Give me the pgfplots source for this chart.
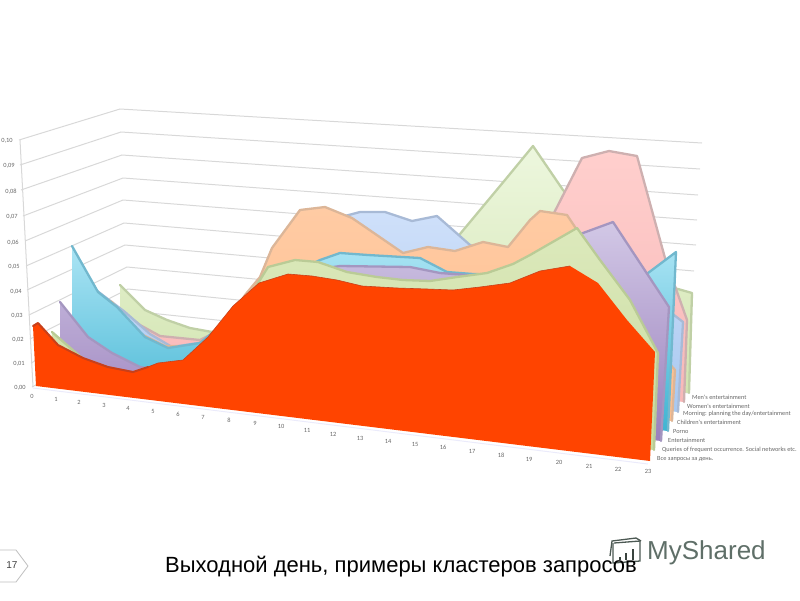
\documentclass[border=0pt]{standalone}
\usepackage{pgfplots}
\pgfplotsset{compat=1.18}
\usepackage{fontspec}
\setmainfont{Liberation Sans}
\newfontfamily\carl{Carlito}
\definecolor{grid}{HTML}{D8D8D8}
\definecolor{lab}{HTML}{666666}
\definecolor{redF}{HTML}{FF4400}
\definecolor{redE}{HTML}{C8401A}
\definecolor{qT}{HTML}{DCE9BC}\definecolor{qB}{HTML}{C9DC9E}\definecolor{qE}{HTML}{BACB96}
\definecolor{pT}{HTML}{D2C8E6}\definecolor{pB}{HTML}{9A80BC}\definecolor{pE}{HTML}{A496C0}
\definecolor{aT}{HTML}{ABE4F4}\definecolor{aB}{HTML}{3FB4D2}\definecolor{aE}{HTML}{72B8CE}
\definecolor{oT}{HTML}{FFCBA4}\definecolor{oB}{HTML}{FFBE8C}\definecolor{oE}{HTML}{DCB698}
\definecolor{bT}{HTML}{CFE0FA}\definecolor{bB}{HTML}{A8C8F0}\definecolor{bE}{HTML}{A8BAD6}
\definecolor{kT}{HTML}{FFCFCD}\definecolor{kB}{HTML}{F8B8B8}\definecolor{kE}{HTML}{CEB0B0}
\definecolor{mT}{HTML}{EDF7DE}\definecolor{mB}{HTML}{D2E4B0}\definecolor{mE}{HTML}{C0D0A6}
\definecolor{wm}{HTML}{5F6F68}
% #1 #2 fill top/bottom, #3 edge, #4 top points, #5 right floor point, #6 left floor point
\newcommand{\series}[6]{%
  \addplot[draw=none, top color=#1, bottom color=#2] coordinates {#4 #5 #6} --cycle;
  \addplot[draw=#3, line width=2.3pt, line join=round, line cap=round] coordinates {#4 #5};
}
\newcommand{\gl}[3]{\addplot[draw=grid, line width=1pt] coordinates {#1 #2 #3};}
\newcommand{\yl}[3]{\node[anchor=center, text=lab] at (axis cs:#1,#2) {\carl\fontsize{6.4}{7}\selectfont #3};}
\newcommand{\leg}[3]{\node[anchor=west, inner sep=0pt, text=lab] at (axis cs:#1,#2) {\carl\fontsize{6.3}{7}\selectfont #3};}
\begin{document}
\begin{tikzpicture}
\useasboundingbox (0,0) rectangle (800pt,600pt);
\begin{axis}[at={(0,0)}, anchor=south west, scale only axis, width=800pt, height=600pt, xmin=0, xmax=800, ymin=0, ymax=600,
  y dir=reverse, hide axis, no markers]
% gridlines: side wall and back wall
\gl{(19,140)}{(120,109)}{(702,143)}
\gl{(20,165)}{(121,132)}{(700,169)}
\gl{(21,190)}{(122,155)}{(698,195)}
\gl{(23,216)}{(123,178)}{(697,220)}
\gl{(25,241)}{(123,200)}{(696,245)}
\gl{(26,266)}{(124,223)}{(694,271)}
\gl{(27,290)}{(125,245)}{(693,296)}
\gl{(29,315)}{(127,267)}{(692,320)}
\gl{(30,339)}{(128,289)}{(691,345)}
\gl{(31,363)}{(130,311)}{(690,369)}
\gl{(32,387)}{(131,333)}{(689,393)}
\addplot[draw=grid, line width=1pt] coordinates {(20,140) (33,387)};
\addplot[draw=black!22!blue!8!white, line width=1pt] coordinates {(33,388) (648,464)};
% Men's entertainment
\series{mT}{mB}{mE}{(120,285) (145,310) (167,320) (190,328) (212,332) (235,320) (265,300) (300,290) (340,280) (380,270) (420,265) (445,252) (475,216) (505,180) (533,146) (563,190) (600,232) (640,280) (678,289) (692,293)}{(689,393)}{(120,334)}
% Women's entertainment
\series{kT}{kB}{kE}{(108,300) (140,325) (160,336) (200,340) (230,325) (255,290) (285,270) (320,260) (360,270) (400,280) (450,285) (500,280) (540,240) (555,211) (582,158) (609,151) (637,156) (665,258) (687,320)}{(684,402)}{(108,341)}
% Morning: planning the day/entertainment
\series{bT}{bB}{bE}{(96,290) (125,312) (150,334) (172,347) (205,342) (235,310) (262,280) (290,245) (320,225) (345,216) (360,212) (385,212) (412,221) (437,216) (470,245) (500,260) (540,245) (580,245) (620,270) (650,300) (674,315) (683,322)}{(678,412)}{(96,348)}
% Children's entertainment
\series{oT}{oB}{oE}{(84,290) (112,302) (135,331) (165,346) (195,346) (225,325) (245,295) (260,277) (272,248) (300,210) (325,207) (352,218) (403,253) (428,247) (455,251) (483,242) (508,247) (530,220) (540,211) (567,215) (575,227) (600,262) (640,330) (675,370)}{(672,421)}{(84,356)}
% Porno
\series{aT}{aB}{aE}{(72,246) (98,292) (117,307) (145,337) (168,348) (200,343) (240,310) (290,275) (320,260) (340,253) (368,255) (420,258) (447,272) (473,274) (510,275) (560,270) (600,285) (648,273) (676,252)}{(668,431)}{(72,363)}
% Entertainment
\series{pT}{pB}{pE}{(60,302) (88,337) (112,353) (140,367) (170,372) (200,355) (240,315) (300,272) (340,266) (410,267) (440,273) (467,275) (510,275) (550,250) (583,233) (613,222) (669,307)}{(661,441)}{(60,371)}
% Queries of frequent occurrence
\series{qT}{qB}{qE}{(52,332) (67,345) (90,365) (115,372) (140,378) (165,368) (190,364) (215,342) (240,312) (260,280) (268,267) (295,260) (318,262) (347,272) (377,277) (403,280) (430,281) (457,277) (487,273) (513,264) (530,255) (577,228) (600,260) (630,300) (658,353)}{(654,450)}{(48,378)}
% All queries
\addplot[draw=none, fill=redF] coordinates {(33,326) (38,323) (58,345) (83,358) (108,367) (133,372) (158,363) (183,360) (208,337) (233,306) (259,283) (288,274) (312,276) (337,280) (362,286) (397,288) (427,289) (453,290) (480,287) (510,283) (540,271) (570,266) (598,283) (627,320) (655,352) (650,461) (36,386)} --cycle;
\addplot[draw=redE, line width=2pt, line join=round, line cap=round] coordinates {(33,326) (38,323) (58,345) (83,358) (108,367) (133,372) (148,367)};
\addplot[draw=redE, line width=.6pt, line join=round] coordinates {(148,367) (158,363) (183,360) (208,337) (233,306) (259,283) (288,274) (312,276) (337,280) (362,286) (397,288) (427,289) (453,290) (480,287) (510,283) (540,271) (570,266)};
% value labels
\yl{7}{141}{0,10}\yl{9}{166}{0,09}\yl{11}{192}{0,08}\yl{12}{217}{0,07}\yl{13}{243}{0,06}\yl{14}{267}{0,05}\yl{16}{292}{0,04}\yl{17}{316}{0,03}\yl{18}{340}{0,02}\yl{19}{364}{0,01}\yl{20}{388}{0,00}
% hour labels
\yl{32}{396}{0}\yl{56}{399}{1}\yl{79}{402}{2}\yl{104}{405}{3}\yl{128}{408}{4}\yl{153}{411}{5}\yl{178}{414}{6}\yl{203}{417}{7}\yl{229}{420}{8}\yl{255}{423}{9}\yl{281}{426}{10}\yl{307}{430}{11}\yl{333}{434}{12}\yl{360}{438}{13}\yl{388}{441}{14}\yl{415}{444}{15}\yl{443}{447}{16}\yl{472}{451}{17}\yl{501}{455}{18}\yl{529}{459}{19}\yl{559}{462}{20}\yl{589}{466}{21}\yl{618}{469}{22}\yl{648}{471}{23}
% series names
\leg{692}{397}{Men's entertainment}
\leg{687}{406}{Women's entertainment}
\leg{683}{414}{Morning: planning the day/entertainment}
\leg{677}{422}{Children's entertainment}
\leg{673}{431}{Porno}
\leg{668}{440}{Entertainment}
\leg{662}{450}{Queries of frequent occurrence. Social networks etc.}
\leg{657}{459}{Все запросы за день.}
% page tag
\addplot[draw=black!25, fill=white, line width=.8pt] coordinates {(-2,550) (16,550) (28,566) (16,582) (-2,582)};
\node[anchor=center, text=black!75] at (axis cs:12,565.5) {\fontsize{10}{12}\selectfont 17};
% watermark
\addplot[draw=wm!80!black, line width=1.3pt] coordinates {(614,543) (640,541) (640,561) (613,563) (613,543)};
\addplot[draw=wm!80!black, line width=1.3pt] coordinates {(610,556) (612,541) (636,538) (641,541)};
\addplot[draw=wm!60!black, line width=2.2pt] coordinates {(620,560) (620,557)};
\addplot[draw=wm!60!black, line width=2.2pt] coordinates {(626,560) (626,553)};
\addplot[draw=wm!60!black, line width=2.2pt] coordinates {(633,560) (633,549)};
\node[anchor=west, inner sep=0pt, text=wm] at (axis cs:647,553) {\fontsize{26}{30}\selectfont MyShared};
% title
\node[anchor=west, inner sep=0pt, text=black] at (axis cs:165,566.5) {\fontsize{22}{26}\selectfont Выходной день, примеры кластеров запросов};
\end{axis}
\end{tikzpicture}
\end{document}
